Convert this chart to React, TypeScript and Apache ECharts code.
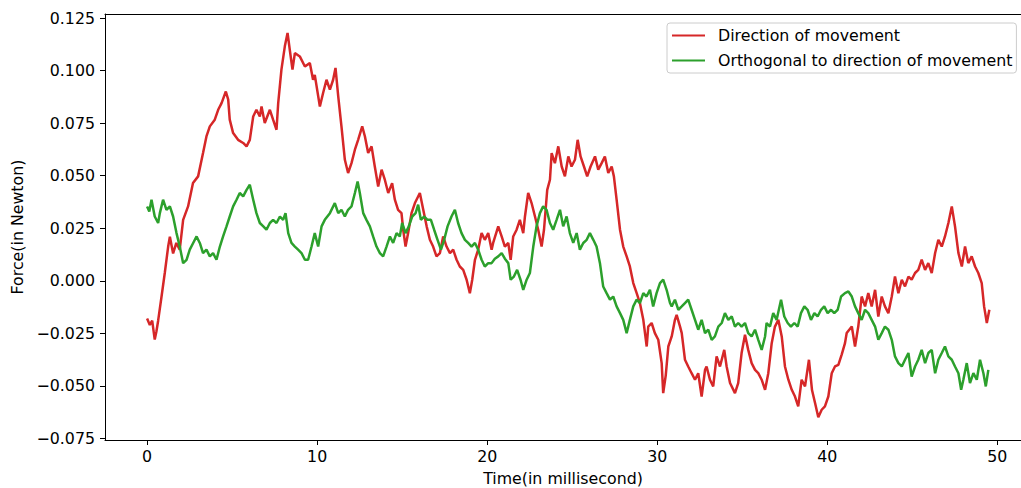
import React, { useEffect, useRef } from "react";
import * as echarts from "echarts";

const seriesNames = ["Direction of movement", "Orthogonal to direction of movement"];
const seriesColors = ["#d62728", "#2ca02c"];

const xTicks = [0, 10, 20, 30, 40, 50];
const yTicks = [-0.075, -0.05, -0.025, 0, 0.025, 0.05, 0.075, 0.1, 0.125];
const yTickLabels = ["\u22120.075", "\u22120.050", "\u22120.025", "0.000", "0.025", "0.050", "0.075", "0.100", "0.125"];

const redTime = [
  0, 0.16, 0.3, 0.45, 0.55, 0.65, 0.85, 1.04, 1.24, 1.34, 1.53, 1.72, 1.92, 2.12, 2.41, 2.7, 3.0, 3.29, 3.49, 3.69,
  3.98, 4.18, 4.38, 4.63, 4.77, 4.86, 5.06, 5.35, 5.65, 5.85, 6.04, 6.24, 6.43, 6.63, 6.73, 6.92, 7.22, 7.41, 7.61, 7.71,
  7.9, 8.1, 8.26, 8.39, 8.55, 8.69, 8.98, 9.28, 9.57, 9.76, 9.86, 10.16, 10.35, 10.55, 10.75, 10.94, 11.08, 11.24, 11.43, 11.63,
  11.82, 12.02, 12.22, 12.41, 12.65, 12.81, 13.0, 13.2, 13.39, 13.59, 13.79, 13.98, 14.18, 14.41, 14.57, 14.76, 14.96, 15.06, 15.2, 15.35,
  15.55, 15.75, 16.04, 16.24, 16.44, 16.63, 16.82, 17.02, 17.22, 17.41, 17.61, 17.81, 18.0, 18.2, 18.39, 18.59, 18.79, 18.98, 19.12, 19.28,
  19.47, 19.67, 19.86, 20.06, 20.26, 20.35, 20.65, 20.85, 21.04, 21.24, 21.38, 21.53, 21.73, 21.92, 22.12, 22.22, 22.41, 22.61, 22.81, 23.0,
  23.2, 23.34, 23.53, 23.69, 23.79, 23.98, 24.18, 24.38, 24.57, 24.77, 24.96, 25.16, 25.32, 25.49, 25.69, 25.88, 26.08, 26.34, 26.53, 26.73,
  26.92, 27.12, 27.32, 27.45, 27.61, 27.81, 28.0, 28.2, 28.39, 28.59, 28.79, 28.98, 29.18, 29.38, 29.47, 29.67, 29.86, 30.06, 30.26, 30.35,
  30.5, 30.65, 30.85, 31.04, 31.14, 31.34, 31.44, 31.63, 31.82, 32.02, 32.22, 32.41, 32.61, 32.81, 32.9, 33.1, 33.29, 33.49, 33.69, 33.94,
  34.08, 34.28, 34.57, 34.76, 34.96, 35.16, 35.35, 35.55, 35.75, 35.94, 36.14, 36.34, 36.53, 36.73, 36.92, 37.12, 37.32, 37.51, 37.71, 37.91,
  38.1, 38.29, 38.49, 38.69, 38.92, 39.1, 39.28, 39.47, 39.67, 39.86, 40.06, 40.26, 40.45, 40.65, 40.85, 41.04, 41.14, 41.44, 41.63, 41.82,
  42.02, 42.22, 42.41, 42.61, 42.81, 43.0, 43.2, 43.39, 43.59, 43.79, 43.98, 44.18, 44.38, 44.57, 44.77, 44.96, 45.16, 45.35, 45.55, 45.75,
  45.94, 46.14, 46.34, 46.53, 46.73, 46.92, 47.12, 47.32, 47.51, 47.71, 47.91, 48.1, 48.29, 48.49, 48.69, 48.88, 49.08, 49.22, 49.38, 49.53,
];
const redForce = [
  -0.018, -0.021, -0.019, -0.028, -0.024, -0.019, -0.0075, 0.0037, 0.0163, 0.021, 0.013, 0.018, 0.0148, 0.029, 0.0354, 0.0465, 0.0497, 0.0608, 0.0687, 0.0735,
  0.0767, 0.0814, 0.0846, 0.0901, 0.0862, 0.0767, 0.0703, 0.0671, 0.0656, 0.064, 0.0671, 0.0782, 0.0814, 0.0782, 0.083, 0.0751, 0.0814, 0.0767, 0.0719, 0.0846,
  0.1005, 0.1116, 0.118, 0.11, 0.1005, 0.1084, 0.1068, 0.102, 0.1037, 0.0957, 0.098, 0.083, 0.0894, 0.0957, 0.091, 0.0957, 0.1013, 0.0878, 0.0735, 0.0576,
  0.0513, 0.056, 0.0624, 0.0671, 0.0735, 0.0687, 0.0608, 0.064, 0.0544, 0.0449, 0.0529, 0.0481, 0.0418, 0.0465, 0.0386, 0.0338, 0.0322, 0.0243, 0.0163, 0.0227,
  0.0322, 0.037, 0.0418, 0.0338, 0.0259, 0.0195, 0.0163, 0.0116, 0.0132, 0.0211, 0.0163, 0.0132, 0.0148, 0.01, 0.0068, 0.0052, 0.0005, -0.0059, 0.0005, 0.01,
  0.0148, 0.0227, 0.0195, 0.0227, 0.0148, 0.018, 0.0259, 0.0211, 0.0163, 0.018, 0.01, 0.0211, 0.0243, 0.029, 0.0227, 0.0306, 0.0418, 0.037, 0.0306, 0.0243,
  0.0163, 0.0243, 0.0433, 0.0481, 0.0608, 0.056, 0.064, 0.0544, 0.0497, 0.0592, 0.0544, 0.0576, 0.0671, 0.0592, 0.0544, 0.0497, 0.0544, 0.0592, 0.0529, 0.056,
  0.0592, 0.0513, 0.0544, 0.0497, 0.0386, 0.0243, 0.0163, 0.0116, 0.0068, -0.0011, -0.0059, -0.0106, -0.0186, -0.0313, -0.0218, -0.0201, -0.0249, -0.0281, -0.0392, -0.0535,
  -0.045, -0.0313, -0.0265, -0.0186, -0.0162, -0.0218, -0.0249, -0.0376, -0.0408, -0.044, -0.0471, -0.044, -0.0551, -0.0424, -0.0408, -0.0471, -0.0503, -0.036, -0.0408, -0.0329,
  -0.0408, -0.0487, -0.0535, -0.0487, -0.0344, -0.0257, -0.0329, -0.0392, -0.0424, -0.044, -0.0471, -0.0519, -0.044, -0.0297, -0.0218, -0.0186, -0.0265, -0.0408, -0.0471, -0.0519,
  -0.0551, -0.0598, -0.0471, -0.0503, -0.0376, -0.052, -0.0582, -0.065, -0.0614, -0.0598, -0.0551, -0.044, -0.0408, -0.04, -0.035, -0.0297, -0.0249, -0.0218, -0.0313, -0.0218,
  -0.0075, -0.0122, -0.0059, -0.0122, -0.0043, -0.017, -0.0075, -0.0122, -0.0154, -0.0075, 0.002, -0.0059, 0.0005, -0.0027, 0.002, 0.0005, 0.0037, 0.0052, 0.01, 0.0052,
  0.0084, 0.0037, 0.0132, 0.0195, 0.0163, 0.0211, 0.0275, 0.0354, 0.0259, 0.0132, 0.0068, 0.0163, 0.0084, 0.0116, 0.0068, 0.0037, -0.0011, -0.0122, -0.0201, -0.0138,
];

const greenTime = [
  0, 0.13, 0.26, 0.45, 0.65, 0.75, 0.94, 1.14, 1.34, 1.53, 1.73, 1.92, 2.12, 2.32, 2.51, 2.71, 2.91, 3.1, 3.29, 3.49,
  3.69, 3.88, 4.08, 4.28, 4.47, 4.67, 4.86, 5.06, 5.26, 5.45, 5.65, 5.85, 6.04, 6.24, 6.43, 6.63, 6.82, 7.02, 7.22, 7.41,
  7.61, 7.81, 8.0, 8.14, 8.3, 8.49, 8.69, 8.88, 9.08, 9.28, 9.47, 9.67, 9.86, 10.06, 10.26, 10.45, 10.75, 11.04, 11.24, 11.43,
  11.63, 11.82, 12.02, 12.22, 12.38, 12.51, 12.71, 12.9, 13.1, 13.29, 13.49, 13.69, 13.88, 14.08, 14.28, 14.47, 14.67, 14.86, 15.0, 15.2,
  15.39, 15.59, 15.79, 15.94, 16.1, 16.3, 16.49, 16.69, 16.88, 17.08, 17.28, 17.47, 17.67, 17.9, 18.1, 18.29, 18.49, 18.69, 18.88, 19.08,
  19.28, 19.47, 19.67, 19.86, 20.06, 20.26, 20.45, 20.65, 20.85, 21.04, 21.24, 21.38, 21.57, 21.76, 21.96, 22.12, 22.32, 22.51, 22.71, 22.9,
  23.1, 23.29, 23.49, 23.69, 23.88, 24.08, 24.28, 24.47, 24.67, 24.86, 25.06, 25.26, 25.45, 25.65, 25.85, 26.04, 26.24, 26.43, 26.63, 26.82,
  27.02, 27.22, 27.41, 27.61, 27.81, 28.0, 28.2, 28.39, 28.59, 28.79, 28.98, 29.18, 29.37, 29.57, 29.76, 29.96, 30.16, 30.35, 30.55, 30.75,
  30.85, 31.04, 31.24, 31.44, 31.63, 31.82, 32.02, 32.22, 32.41, 32.61, 32.81, 33.0, 33.2, 33.39, 33.59, 33.79, 33.98, 34.18, 34.38, 34.57,
  34.76, 34.96, 35.16, 35.35, 35.55, 35.75, 35.94, 36.14, 36.34, 36.43, 36.63, 36.82, 37.02, 37.28, 37.47, 37.67, 37.86, 38.06, 38.26, 38.45,
  38.65, 38.84, 39.04, 39.24, 39.43, 39.63, 39.82, 40.02, 40.22, 40.41, 40.61, 40.81, 41.04, 41.24, 41.44, 41.63, 41.82, 42.02, 42.22, 42.41,
  42.61, 42.81, 43.0, 43.2, 43.39, 43.59, 43.79, 43.98, 44.18, 44.38, 44.57, 44.77, 44.96, 45.16, 45.35, 45.55, 45.75, 45.94, 46.14, 46.34,
  46.53, 46.73, 46.92, 47.12, 47.32, 47.51, 47.71, 47.87, 48.0, 48.2, 48.39, 48.59, 48.79, 48.98, 49.18, 49.32, 49.47,
];
const greenForce = [
  0.0354, 0.033, 0.0386, 0.0306, 0.0275, 0.0322, 0.0386, 0.0338, 0.0354, 0.0306, 0.0227, 0.0163, 0.0084, 0.01, 0.0148, 0.018, 0.0211, 0.018, 0.0132, 0.0148,
  0.0116, 0.0132, 0.01, 0.0163, 0.0211, 0.0259, 0.0306, 0.0354, 0.0386, 0.0418, 0.0402, 0.0433, 0.0457, 0.0386, 0.0322, 0.0275, 0.026, 0.0243, 0.0275, 0.029,
  0.0275, 0.0306, 0.029, 0.0322, 0.0227, 0.018, 0.0163, 0.0148, 0.0132, 0.01, 0.01, 0.0163, 0.0227, 0.0163, 0.0259, 0.029, 0.0322, 0.037, 0.0322, 0.0338,
  0.0306, 0.0338, 0.0354, 0.0418, 0.0473, 0.0418, 0.0322, 0.029, 0.0259, 0.0211, 0.0163, 0.0132, 0.0116, 0.0163, 0.0211, 0.018, 0.0227, 0.0211, 0.0275, 0.0227,
  0.0259, 0.0306, 0.0322, 0.0362, 0.029, 0.0306, 0.029, 0.029, 0.0243, 0.0195, 0.0148, 0.0195, 0.0259, 0.0306, 0.0338, 0.0275, 0.0227, 0.0195, 0.018, 0.0163,
  0.018, 0.0148, 0.01, 0.0068, 0.0084, 0.0084, 0.0105, 0.0116, 0.0132, 0.0105, 0.0084, 0.0005, 0.002, 0.0052, 0.0005, -0.0043, 0.0005, 0.0037, 0.0163, 0.0259,
  0.0322, 0.0354, 0.0338, 0.0275, 0.0243, 0.029, 0.0338, 0.0259, 0.0306, 0.0227, 0.018, 0.0227, 0.0148, 0.018, 0.0195, 0.0227, 0.0195, 0.0163, 0.0084, -0.0027,
  -0.0059, -0.009, -0.0075, -0.0122, -0.0154, -0.0186, -0.0249, -0.0186, -0.0122, -0.009, -0.0106, -0.0059, -0.0075, -0.0043, -0.0122, -0.0059, -0.0011, 0.0005, -0.0043, -0.0106,
  -0.0122, -0.009, -0.0138, -0.0122, -0.0106, -0.009, -0.0138, -0.0186, -0.0233, -0.0186, -0.0249, -0.0233, -0.0281, -0.0265, -0.0218, -0.0201, -0.0154, -0.0186, -0.017, -0.0218,
  -0.0201, -0.0218, -0.0201, -0.0249, -0.0265, -0.0233, -0.0281, -0.0329, -0.0265, -0.0201, -0.0218, -0.0154, -0.0186, -0.009, -0.017, -0.0201, -0.0218, -0.0201, -0.0218, -0.0154,
  -0.0122, -0.0138, -0.0186, -0.0154, -0.017, -0.0138, -0.0122, -0.0154, -0.0138, -0.0154, -0.0138, -0.0075, -0.0059, -0.0051, -0.0075, -0.0122, -0.0154, -0.0186, -0.0138, -0.0154,
  -0.0186, -0.0218, -0.0281, -0.0249, -0.0218, -0.0233, -0.0281, -0.036, -0.0392, -0.0408, -0.0376, -0.0344, -0.0456, -0.0408, -0.0376, -0.0329, -0.0392, -0.0344, -0.0329, -0.044,
  -0.0376, -0.0344, -0.0313, -0.036, -0.0376, -0.0408, -0.044, -0.0519, -0.0471, -0.0392, -0.0487, -0.044, -0.0471, -0.0376, -0.044, -0.0503, -0.0424,
];

const FONT = "DejaVu Sans";
const FS = 15.8;

export default function App() {
  const ref = useRef<HTMLDivElement>(null);

  useEffect(() => {
    document.body.style.margin = "0";
    if (!ref.current) return;
    const chart = echarts.init(ref.current, null, { renderer: "svg" });
    const toPairs = (t: number[], v: number[]) => t.map((x, i) => [x, v[i]]);
    const xMin = -2.475;
    const xMax = 51.39;
    chart.setOption({
      animation: false,
      backgroundColor: "#fff",
      textStyle: { fontFamily: FONT },
      grid: {
        left: 105,
        top: 14,
        right: 0,
        bottom: 48,
        outerBoundsMode: "none",
        containLabel: false,
      },
      legend: {
        orient: "vertical",
        left: 667,
        top: 23,
        padding: [4, 4, 4, 5],
        itemGap: 8,
        itemWidth: 33,
        itemHeight: 2,
        icon: "rect",
        borderColor: "#cccccc",
        borderWidth: 1,
        borderRadius: 3,
        backgroundColor: "rgba(255,255,255,0.8)",
        textStyle: {
          fontFamily: FONT,
          fontSize: FS,
          color: "#000",
          lineHeight: 17,
          padding: [0, 0, 0, 8],
        },
        data: seriesNames,
      },
      xAxis: [
        {
          type: "value",
          min: xMin,
          max: xMax,
          name: "Time(in millisecond)",
          nameLocation: "middle",
          nameGap: 30,
          nameTextStyle: { fontFamily: FONT, fontSize: FS, color: "#000" },
          splitLine: { show: false },
          axisLine: { show: true, onZero: false, lineStyle: { color: "#000", width: 1 } },
          axisTick: { show: true, inside: false, length: 5, lineStyle: { color: "#000" }, customValues: xTicks },
          axisLabel: {
            fontFamily: FONT,
            fontSize: FS,
            color: "#000",
            margin: 8,
            customValues: xTicks,
            formatter: (v: number) => String(v),
          },
        },
        {
          type: "value",
          position: "top",
          min: xMin,
          max: xMax,
          splitLine: { show: false },
          axisLine: { show: true, onZero: false, lineStyle: { color: "#000", width: 1 } },
          axisTick: { show: false },
          axisLabel: { show: false },
        },
      ],
      yAxis: {
        type: "value",
        min: -0.0758,
        max: 0.127,
        name: "Force(in Newton)",
        nameLocation: "middle",
        nameGap: 79,
        nameRotate: 90,
        nameTextStyle: { fontFamily: FONT, fontSize: FS, color: "#000" },
        splitLine: { show: false },
        axisLine: { show: true, onZero: false, lineStyle: { color: "#000", width: 1 } },
        axisTick: { show: true, inside: false, length: 5, lineStyle: { color: "#000" }, customValues: yTicks },
        axisLabel: {
          fontFamily: FONT,
          fontSize: FS,
          color: "#000",
          margin: 10,
          customValues: yTicks,
          formatter: (v: number) => {
            const i = yTicks.findIndex((t) => Math.abs(t - v) < 1e-6);
            return i >= 0 ? yTickLabels[i] : "";
          },
        },
      },
      series: [
        {
          name: seriesNames[0],
          type: "line",
          xAxisIndex: 0,
          data: toPairs(redTime, redForce),
          showSymbol: false,
          symbol: "none",
          color: seriesColors[0],
          lineStyle: { color: seriesColors[0], width: 2.5 },
          z: 2,
        },
        {
          name: seriesNames[1],
          type: "line",
          xAxisIndex: 0,
          data: toPairs(greenTime, greenForce),
          showSymbol: false,
          symbol: "none",
          color: seriesColors[1],
          lineStyle: { color: seriesColors[1], width: 2.5 },
          z: 3,
        },
      ],
    });
    return () => chart.dispose();
  }, []);

  return <div ref={ref} style={{ width: 1021, height: 488 }} />;
}
